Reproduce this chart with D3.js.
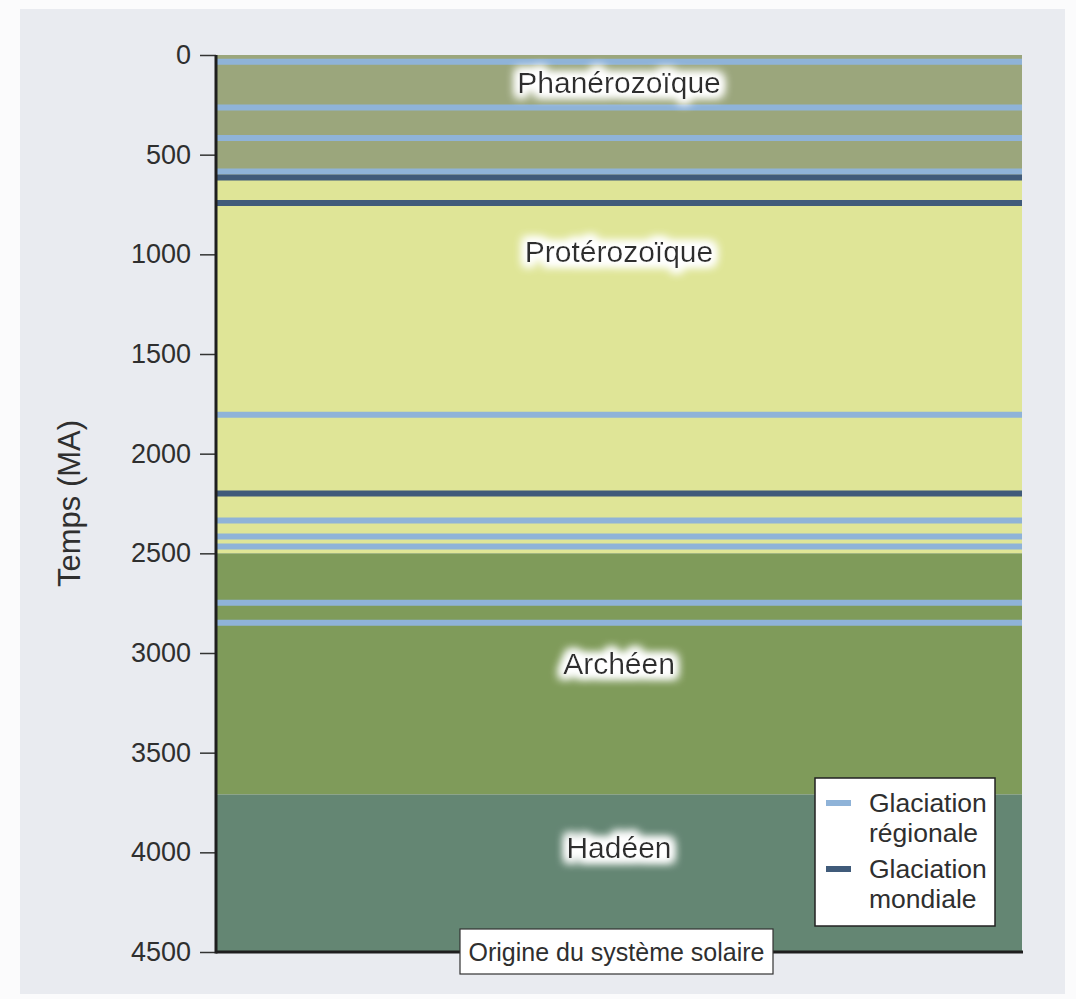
<!DOCTYPE html>
<html>
<head>
<meta charset="utf-8">
<script src="https://cdn.jsdelivr.net/npm/d3@7"></script>
<style>
  html, body { margin: 0; padding: 0; background: #fbfbfc; }
  svg { display: block; }
  text { font-family: "Liberation Sans", Arial, Helvetica, sans-serif; fill: #2f2f2f; }
</style>
</head>
<body>
<svg id="chart" width="1076" height="999"></svg>
<script>
// ---- Data ----
const eraNames  = ["Phanérozoïque", "Protérozoïque", "Archéen", "Hadéen"];
const eraStart  = [0, 600, 2500, 3710];
const eraEnd    = [600, 2500, 3710, 4500];
const eraLabelAt = [192, 1040, 3105, 4030];   // time (MA) where label baseline sits
const regionalGlaciations = [34, 264, 416, 585, 1805, 2335, 2415, 2466, 2748, 2848];
const globalGlaciations   = [615, 742, 2200];
const yTicks = [0, 500, 1000, 1500, 2000, 2500, 3000, 3500, 4000, 4500];
const legendLabels = [["Glaciation", "régionale"], ["Glaciation", "mondiale"]];
const axisTitle = "Temps (MA)";
const originLabel = "Origine du système solaire";

// ---- Styles ----
const eraColors = ["#9ba67c", "#dfe597", "#7f9b5a", "#648673"];
const regionalColor = "#8fb3d8";
const globalColor = "#405b7a";

const svg = d3.select("#chart");
const margin = { left: 216, right: 1022, top: 55, bottom: 952 };

// glow filter
const defs = svg.append("defs");
const f = defs.append("filter").attr("id", "glow").attr("x", "-20%").attr("y", "-50%").attr("width", "140%").attr("height", "200%");
f.append("feMorphology").attr("in", "SourceAlpha").attr("operator", "dilate").attr("radius", 4).attr("result", "d");
f.append("feGaussianBlur").attr("in", "d").attr("stdDeviation", 5).attr("result", "b");
f.append("feFlood").attr("flood-color", "#ffffff").attr("flood-opacity", 1).attr("result", "w");
f.append("feComposite").attr("in", "w").attr("in2", "b").attr("operator", "in").attr("result", "g");
const fm = f.append("feMerge");
fm.append("feMergeNode").attr("in", "g");
fm.append("feMergeNode").attr("in", "g");
fm.append("feMergeNode").attr("in", "SourceGraphic");

// panel background
svg.append("rect").attr("x", 20).attr("y", 9).attr("width", 1045).attr("height", 985).attr("fill", "#e9ebf0");

const y = d3.scaleLinear().domain([0, 4500]).range([margin.top, margin.bottom]);
const x = d3.scaleLinear().domain([0, 1]).range([margin.left, margin.right]);

// era bands
svg.append("g").selectAll("rect").data(eraNames).join("rect")
  .attr("x", x(0)).attr("width", x(1) - x(0))
  .attr("y", (d, i) => y(eraStart[i]))
  .attr("height", (d, i) => y(eraEnd[i]) - y(eraStart[i]))
  .attr("fill", (d, i) => eraColors[i]);

// glaciation lines
svg.append("g").selectAll("line").data(regionalGlaciations).join("line")
  .attr("x1", x(0)).attr("x2", x(1))
  .attr("y1", d => y(d)).attr("y2", d => y(d))
  .attr("stroke", regionalColor).attr("stroke-width", 6);
svg.append("g").selectAll("line").data(globalGlaciations).join("line")
  .attr("x1", x(0)).attr("x2", x(1))
  .attr("y1", d => y(d)).attr("y2", d => y(d))
  .attr("stroke", globalColor).attr("stroke-width", 6);

// era labels
svg.append("g").selectAll("text").data(eraNames).join("text")
  .attr("x", (x(0) + x(1)) / 2)
  .attr("y", (d, i) => y(eraLabelAt[i]))
  .attr("text-anchor", "middle")
  .attr("font-size", 30)
  .attr("filter", "url(#glow)")
  .text(d => d);

// y axis
const axis = d3.axisLeft(y).tickValues(yTicks).tickSize(16).tickPadding(9).tickFormat(d3.format("d"));
const gA = svg.append("g").attr("transform", `translate(${margin.left},0)`).call(axis);
gA.select(".domain").remove();
gA.selectAll(".tick line").attr("stroke", "#333").attr("stroke-width", 1.5);
gA.selectAll(".tick text").attr("font-size", 27).attr("fill", "#333")
  .attr("font-family", "'Liberation Sans', Arial, sans-serif");

// axis lines
svg.append("line").attr("x1", margin.left).attr("x2", margin.left)
  .attr("y1", margin.top).attr("y2", margin.bottom + 1.5)
  .attr("stroke", "#1e1e1e").attr("stroke-width", 3);
svg.append("line").attr("x1", margin.left).attr("x2", margin.right + 1)
  .attr("y1", margin.bottom).attr("y2", margin.bottom)
  .attr("stroke", "#1e1e1e").attr("stroke-width", 3);

// axis title
svg.append("text")
  .attr("transform", `translate(80,${(margin.top + margin.bottom) / 2}) rotate(-90)`)
  .attr("text-anchor", "middle").attr("font-size", 31).text(axisTitle);

// legend
const lg = svg.append("g");
lg.append("rect").attr("x", 815).attr("y", 778).attr("width", 180).attr("height", 148)
  .attr("fill", "#ffffff").attr("stroke", "#222").attr("stroke-width", 1.5);
const lgColors = [regionalColor, globalColor];
legendLabels.forEach((lines, i) => {
  const top = 803 + i * 66;
  lg.append("line").attr("x1", 826).attr("x2", 851).attr("y1", top).attr("y2", top)
    .attr("stroke", lgColors[i]).attr("stroke-width", 6);
  lines.forEach((t, j) => {
    lg.append("text").attr("x", 869).attr("y", top + 9 + j * 30).attr("font-size", 26.5).text(t);
  });
});

// origin label box
const ob = svg.append("g");
ob.append("rect").attr("x", 460).attr("y", 929).attr("width", 313).attr("height", 45)
  .attr("fill", "#ffffff").attr("stroke", "#333").attr("stroke-width", 1.2);
ob.append("text").attr("x", 616.5).attr("y", 961).attr("text-anchor", "middle")
  .attr("font-size", 25).text(originLabel);
</script>
</body>
</html>
